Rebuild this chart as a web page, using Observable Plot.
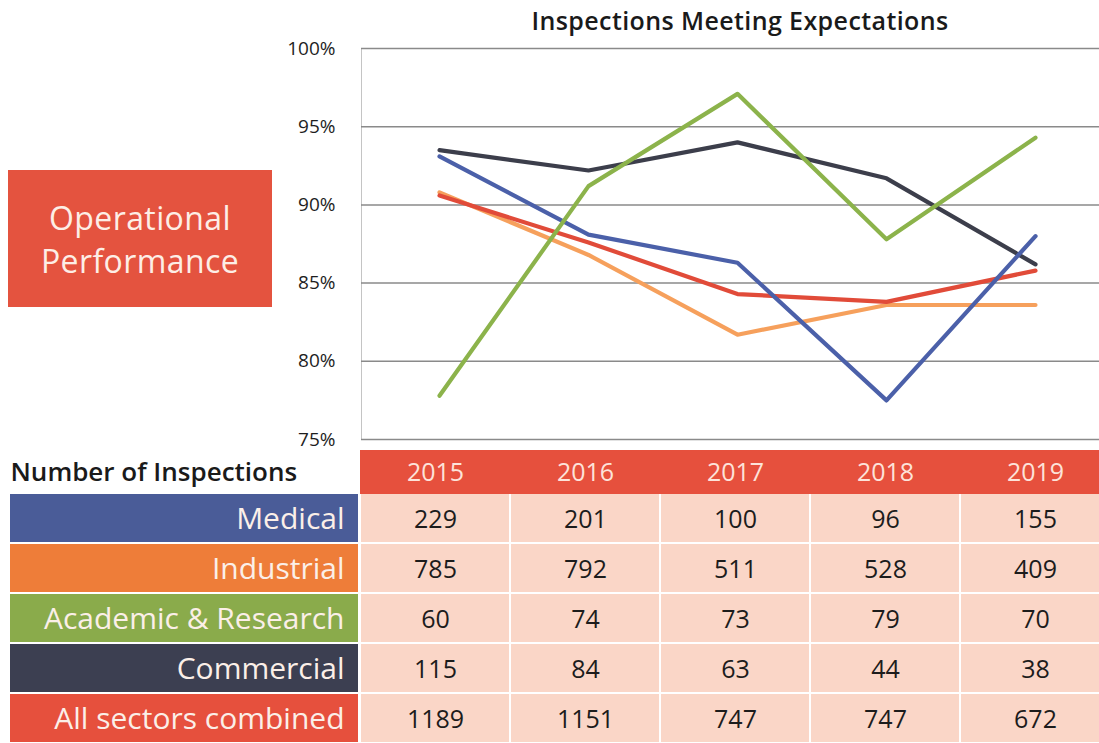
<!DOCTYPE html>
<html>
<head>
<meta charset="utf-8">
<script src="https://cdn.jsdelivr.net/npm/d3@7"></script>
<script src="https://cdn.jsdelivr.net/npm/@observablehq/plot@0.6"></script>
<style>
  html, body { margin: 0; padding: 0; background: #fff; }
  #wrap { position: relative; width: 1099px; height: 743px; overflow: hidden; background: #fff; font-family: "Open Sans", sans-serif; }
  #title { position: absolute; left: 381px; width: 718px; top: 3px; text-align: center; font-size: 25px; font-weight: 600; color: #1a1a1a; letter-spacing: 0.4px; }
  #opbox { position: absolute; left: 8px; top: 170px; width: 264px; height: 137px; background: #e4533f; color: #fdeee6; font-size: 32px; font-weight: 500; line-height: 43px; text-align: center; display: flex; align-items: center; justify-content: center; letter-spacing: 0.4px; }
  #chart { position: absolute; left: 0; top: 0; }
  #table { position: absolute; left: 0; top: 442px; display: flex; }
  svg { overflow: visible; }
</style>
</head>
<body>
<div id="wrap">
  <div id="chart"></div>
  <div id="table"></div>
  <div id="title">Inspections Meeting Expectations</div>
  <div id="opbox"><div>Operational<br>Performance</div></div>
</div>
<script>
// ---- data ----
const years = ["2015", "2016", "2017", "2018", "2019"];
const sectors = ["Medical", "Industrial", "Academic & Research", "Commercial", "All sectors combined"];
const yTicks = [75, 80, 85, 90, 95, 100];

const medicalPct    = [93.1, 88.1, 86.3, 77.5, 88.0];
const industrialPct = [90.8, 86.8, 81.7, 83.6, 83.6];
const academicPct   = [77.8, 91.2, 97.1, 87.8, 94.3];
const commercialPct = [93.5, 92.2, 94.0, 91.7, 86.2];
const combinedPct   = [90.6, 87.6, 84.3, 83.8, 85.8];

const medicalCount    = [229, 201, 100, 96, 155];
const industrialCount = [785, 792, 511, 528, 409];
const academicCount   = [60, 74, 73, 79, 70];
const commercialCount = [115, 84, 63, 44, 38];
const combinedCount   = [1189, 1151, 747, 747, 672];

// ---- styles ----
const lineColors = ["#4b60a9", "#f6a05c", "#8cb34b", "#3c3e4b", "#e14b39"];
const rowColors  = ["#4a5c98", "#ee7d39", "#8aab4b", "#3c3f51", "#e6503d"];
const font = "'Open Sans', sans-serif";

const pctSeries = [medicalPct, industrialPct, academicPct, commercialPct, combinedPct];
const countSeries = [medicalCount, industrialCount, academicCount, commercialCount, combinedCount];

// draw order: commercial, industrial, combined, medical, academic
const drawOrder = [3, 1, 4, 0, 2];
const lineData = drawOrder.flatMap(i => years.map((yr, j) => ({sector: sectors[i], year: yr, pct: pctSeries[i][j]})));
const cellData = sectors.flatMap((s, i) => years.map((yr, j) => ({sector: s, year: yr, count: countSeries[i][j]})));

const chart = Plot.plot({
  width: 1099, height: 442,
  marginLeft: 361, marginRight: 0, marginTop: 48, marginBottom: 3,
  style: {background: "transparent", fontFamily: font, fontSize: "19px", color: "#1e1e1e", overflow: "visible"},
  x: {type: "point", domain: years, range: [437, 1036], padding: 0, axis: null},
  y: {domain: [75, 100], ticks: yTicks, tickFormat: d => d + "%", tickSize: 0, tickPadding: 26, label: null},
  color: {domain: sectors, range: lineColors},
  marks: [
    Plot.frame({stroke: "#c4c4c4", insetRight: -3}),
    Plot.ruleY(yTicks, {stroke: "#8a8a8a", strokeWidth: 1.5}),
    Plot.line(lineData, {x: "year", y: "pct", z: "sector", stroke: "sector", strokeWidth: 4.2})
  ]
});
document.getElementById("chart").appendChild(chart);

const yRows = {domain: ["header", ...sectors], range: [0, 303], padding: 0, axis: null};

const labels = Plot.plot({
  width: 360, height: 301,
  marginLeft: 10, marginRight: 2, marginTop: 0, marginBottom: 0,
  style: {background: "transparent", fontFamily: font, overflow: "visible"},
  y: yRows,
  color: {domain: sectors, range: rowColors},
  marks: [
    Plot.cell(sectors, {y: d => d, fill: d => d, insetBottom: 2}),
    Plot.text(sectors, {y: d => d, text: d => d, frameAnchor: "right", textAnchor: "end", dx: -14, fill: "#fbefe8", fontSize: 30}),
    Plot.text(["Number of Inspections"], {y: () => "header", text: d => d, frameAnchor: "left", textAnchor: "start", dy: 3, fill: "#1a1a1a", fontSize: 26, fontWeight: 600})
  ]
});

const grid = Plot.plot({
  width: 739, height: 301,
  margin: 0,
  style: {background: "transparent", fontFamily: font},
  x: {type: "band", domain: years, range: [0, 750], padding: 0, axis: null},
  y: yRows,
  marks: [
    Plot.cell(years, {x: d => d, y: () => "header", fill: "#e6503d", insetTop: 6}),
    Plot.cell(cellData, {x: "year", y: "sector", fill: "#fad6c7", insetLeft: 1, insetRight: 1, insetBottom: 2}),
    Plot.text(years, {x: d => d, y: () => "header", text: d => d, dy: 3, fill: "#fde3da", fontSize: 25}),
    Plot.text(cellData, {x: "year", y: "sector", text: d => String(d.count), fill: "#1c1c1c", fontSize: 25})
  ]
});

const t = document.getElementById("table");
t.appendChild(labels);
t.appendChild(grid);
</script>
</body>
</html>
